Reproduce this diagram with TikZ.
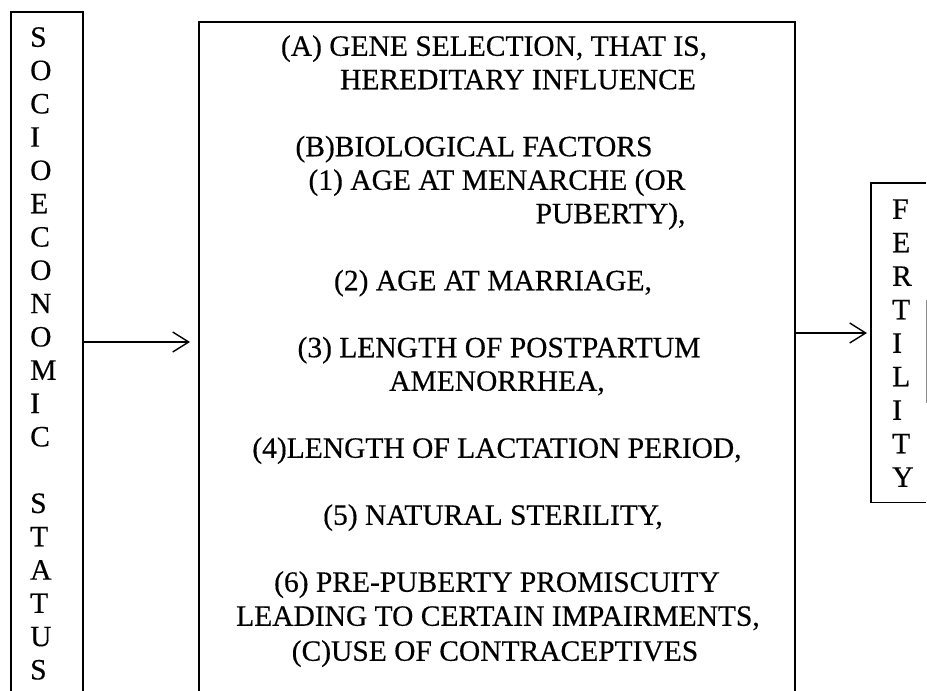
\documentclass[tikz,border=0pt]{standalone}
\usepackage{fontspec}
\setmainfont{Liberation Serif}[FakeBold=0.35]
\usetikzlibrary{arrows.meta}
\begin{document}
\begin{tikzpicture}[x=1pt,y=-1pt,
  frame/.style={draw=black, line width=1.5pt, inner sep=0pt, anchor=north west},
  txt/.style={font=\fontsize{29.5}{34}\selectfont, inner sep=0pt, text height=19.5pt, text depth=0pt},
  letter/.style={txt, anchor=west},
  link/.style={line width=1.4pt, -{Straight Barb[length=16pt,width=20pt]}},
  faintedge/.style={draw=black!45, line width=0.9pt}
]
\useasboundingbox (0,0) rectangle (927,691);

% boxes
\node[frame, minimum width=72pt, minimum height=720pt] (lbox) at (10,11) {};
\node[frame, minimum width=596pt, minimum height=720pt] (mbox) at (198,21) {};
\node[inner sep=0pt, anchor=north west, minimum width=55pt, minimum height=319pt] (rbox) at (871,183) {};
\draw[line width=1.5pt] (rbox.north east) -- (rbox.north west) -- (rbox.south west) -- (rbox.south east);
\draw[faintedge] (926,300) -- (926,403);

% vertical labels
\foreach \ch [count=\k from 0] in {S,O,C,I,O,E,C,O,N,O,M,I,C}
  \node[letter] (s\k) at (30, 37+\k*33.3) {\ch};
\foreach \ch [count=\k from 14] in {S,T,A,T,U,S}
  \node[letter] (s\k) at (30, 37+\k*33.3) {\ch};
\foreach \ch [count=\k from 0] in {F,E,R,T,I,L,I,T,Y}
  \node[letter] (f\k) at (892, 209+\k*33.5) {\ch};

% factor list
\node[txt] (a1) at (494,46)    {(A) GENE SELECTION, THAT IS,};
\node[txt] (a2) at (518,79.5)  {HEREDITARY INFLUENCE};
\node[txt] (b0) at (474,146.5) {(B)BIOLOGICAL FACTORS};
\node[txt] (b1) at (497,180)   {(1) AGE AT MENARCHE (OR};
\coordinate (yp) at (0,213.5);
\node[txt, anchor=east] (b1b) at (b1.east |- yp) {PUBERTY),};
\node[txt] (b2) at (493,280.5) {(2) AGE AT MARRIAGE,};
\node[txt] (b3) at (499,347.5) {(3) LENGTH OF POSTPARTUM};
\node[txt] (b3b) at (497,381)  {AMENORRHEA,};
\node[txt] (b4) at (497,448)   {(4)LENGTH OF LACTATION PERIOD,};
\node[txt] (b5) at (493,515)   {(5) NATURAL STERILITY,};
\node[txt] (b6) at (497,582)   {(6) PRE-PUBERTY PROMISCUITY};
\node[txt] (b6b) at (498,616)  {LEADING TO CERTAIN IMPAIRMENTS,};
\node[txt] (c0) at (495,651)   {(C)USE OF CONTRACEPTIVES};

% connectors
\coordinate (yl) at (0,342);
\coordinate (yr) at (0,333);
\draw[link, shorten >=8pt] (lbox.east |- yl) -- (mbox.west |- yl);
\draw[link, shorten >=4pt] (mbox.east |- yr) -- (rbox.west |- yr);
\end{tikzpicture}
\end{document}
